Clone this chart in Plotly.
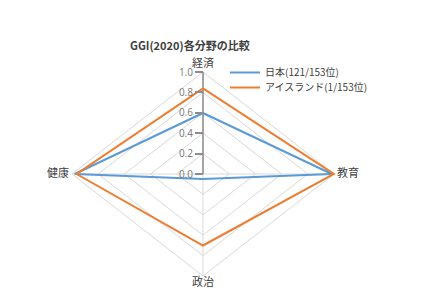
import numpy as np
import plotly.graph_objects as go

# Radar chart: GGI 2020 sub-index scores, Japan vs Iceland
categories = ["経済", "教育", "政治", "健康"]
japan = [0.598, 0.983, 0.049, 0.979]
iceland = [0.839, 0.999, 0.701, 0.965]
series_names = ["日本(121/153位)", "アイスランド(1/153位)"]
series_colors = ["#5B9BD5", "#ED7D31"]
grid_levels = [0.2, 0.4, 0.6, 0.8, 1.0]
tick_values = [0.0, 0.2, 0.4, 0.6, 0.8, 1.0]
tick_labels = ["0.0", "0.2", "0.4", "0.6", "0.8", "1.0"]

W, H = 430, 291
CX, CY = 203, 174      # chart centre in pixels
RX, RY = 131, 102      # horizontal / vertical radius in pixels

angles = np.deg2rad([0, 90, 180, 270])  # clockwise from top


def to_xy(vals):
    r = np.asarray(vals + vals[:1], dtype=float)
    a = np.append(angles, angles[0])
    return r * np.sin(a), r * np.cos(a)


fig = go.Figure()

grid_color = "#D9D9D9"
for lv in grid_levels:
    gx, gy = to_xy([lv] * len(categories))
    fig.add_trace(go.Scatter(x=gx, y=gy, mode="lines", showlegend=False,
                             hoverinfo="skip",
                             line=dict(color=grid_color, width=1)))
for a in angles:
    fig.add_trace(go.Scatter(x=[0, np.sin(a)], y=[0, np.cos(a)], mode="lines",
                             showlegend=False, hoverinfo="skip",
                             line=dict(color=grid_color, width=1)))

# value axis along the top spoke
fig.add_trace(go.Scatter(x=[0, 0], y=[tick_values[0], tick_values[-1]],
                         mode="lines", showlegend=False, hoverinfo="skip",
                         line=dict(color="#8C8C8C", width=1.5)))

legend_ids = ["legend", "legend2"]
for name, vals, col, lg in zip(series_names, [japan, iceland], series_colors,
                               legend_ids):
    sx, sy = to_xy(vals)
    fig.add_trace(go.Scatter(x=sx, y=sy, mode="lines", name=name, legend=lg,
                             line=dict(color=col, width=2)))

# category labels just outside the outer ring
lab_font = dict(family="Noto Sans CJK JP", size=11, color="#404040")
lab_pos = ["top center", "middle right", "bottom center", "middle left"]
lab_r = [1 + 2 / RY, 1 + 3 / RX, 1 + 2 / RY, 1 + 3 / RX]
for cat, a, r, pos in zip(categories, angles, lab_r, lab_pos):
    fig.add_trace(go.Scatter(
        x=[r * np.sin(a)], y=[r * np.cos(a)],
        mode="text", text=[cat], textposition=pos,
        showlegend=False, hoverinfo="skip", textfont=lab_font))

fig.add_annotation(x=190 / W, y=1 - 45 / H, xref="paper", yref="paper",
                   text="<b>GGI(2020)各分野の比較</b>", showarrow=False,
                   xanchor="center", yanchor="middle",
                   font=dict(family="Noto Sans CJK JP", size=11, color="#404040"))

legend_style = dict(xanchor="left", yanchor="top",
                    font=dict(family="Noto Sans CJK JP", size=10, color="#404040"),
                    bgcolor="rgba(0,0,0,0)", tracegroupgap=0, itemwidth=30)

fig.update_layout(
    width=W, height=H,
    margin=dict(l=0, r=0, t=0, b=0),
    paper_bgcolor="white", plot_bgcolor="white",
    showlegend=True,
    legend=dict(x=225 / W, y=1 - 58 / H, **legend_style),
    legend2=dict(x=225 / W, y=1 - 73 / H, **legend_style),
    xaxis=dict(range=[-CX / RX, (W - CX) / RX], domain=[0, 1],
               showgrid=False, zeroline=False, showticklabels=False,
               showline=False, fixedrange=True),
    yaxis=dict(range=[-(H - CY) / RY, CY / RY], domain=[0, 1],
               anchor="free", position=CX / W,
               tickvals=tick_values, ticktext=tick_labels,
               ticks="outside", ticklen=8, tickcolor="#8C8C8C", tickwidth=1.5,
               tickfont=dict(family="Noto Sans", size=10, color="#7F7F7F"),
               showgrid=False, zeroline=False, showline=False, fixedrange=True),
)

fig.write_html("out.html")
